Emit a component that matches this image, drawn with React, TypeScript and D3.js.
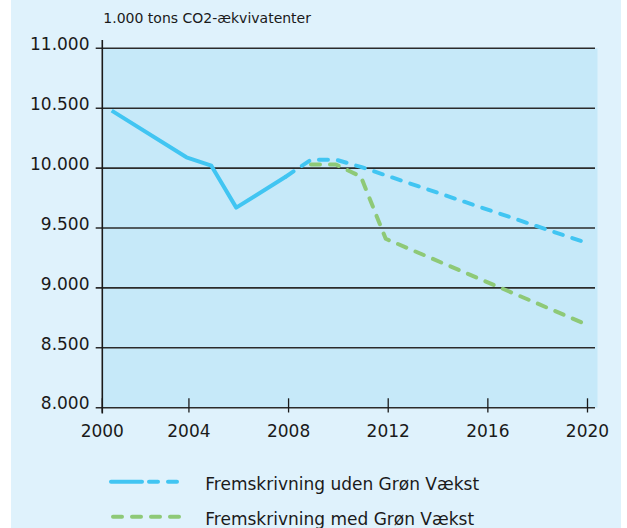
import React from "react";
import * as d3 from "d3";

const histYears = [2001, 2004, 2005, 2006, 2008];
const histValues = [10480, 10090, 10020, 9670, 9930];
const udenYears = [2008, 2009, 2010, 2011, 2020];
const udenValues = [9930, 10070, 10070, 10010, 9380];
const medYears = [2009, 2010, 2011, 2012, 2020];
const medValues = [10030, 10030, 9930, 9410, 8700];
const xTicks = [2000, 2004, 2008, 2012, 2016, 2020];
const yTicks = [8000, 8500, 9000, 9500, 10000, 10500, 11000];
const yTickLabels = ["8.000", "8.500", "9.000", "9.500", "10.000", "10.500", "11.000"];
const unitLabel = "1.000 tons CO2-ækvivatenter";
const legendLabels = ["Fremskrivning uden Grøn Vækst", "Fremskrivning med Grøn Vækst"];

const W = 627;
const H = 528;
const plotLeft = 102.3;
const plotRight = 597.5;
const axisRight = 595;
const blue = "#41c5f2";
const green = "#8ec977";
const font = "DejaVu Sans, sans-serif";
const tickShift = 2.5;

export default function App() {
  const x = d3.scaleLinear().domain([2001, 2020]).range([111.7, 585]);
  const y = d3.scaleLinear().domain([8000, 11000]).range([407.7, 48.3]);
  const line = d3
    .line<[number, number]>()
    .x((d) => x(d[0]))
    .y((d) => y(d[1]));
  const hist = histYears.map((yr, i) => [yr, histValues[i]] as [number, number]);
  const uden = udenYears.map((yr, i) => [yr, udenValues[i]] as [number, number]);
  const med = medYears.map((yr, i) => [yr, medValues[i]] as [number, number]);
  const tickX = (t: number) => Math.max(plotLeft, x(t) + tickShift);
  const y0 = y(8000);

  return (
    <svg
      width={W}
      height={H}
      style={{ position: "absolute", left: 0, top: 0 }}
      fontFamily={font}
    >
      <rect x={11} y={0} width={610} height={H} fill="#dff2fc" />
      <rect x={plotLeft} y={y(11000)} width={plotRight - plotLeft} height={y0 - y(11000)} fill="#c6e9f9" />
      {yTicks.map((t, i) => (
        <g key={t}>
          <line x1={95.7} x2={axisRight} y1={y(t)} y2={y(t)} stroke="#2b2b2b" strokeWidth={1.6} />
          <text x={89.5} y={y(t) + 1.7} textAnchor="end" fontSize={17} fill="#1a1a1a">
            {yTickLabels[i]}
          </text>
        </g>
      ))}
      <line x1={plotLeft} x2={plotLeft} y1={40} y2={413.5} stroke="#1a1a1a" strokeWidth={1.6} />
      {xTicks.map((t) => (
        <g key={t}>
          <line x1={tickX(t)} x2={tickX(t)} y1={398.3} y2={412.5} stroke="#1a1a1a" strokeWidth={1.3} />
          <text x={tickX(t)} y={436.7} textAnchor="middle" fontSize={17} fill="#1a1a1a">
            {t}
          </text>
        </g>
      ))}
      <text x={103.3} y={22.7} fontSize={14} fill="#1a1a1a">
        {unitLabel}
      </text>
      <path d={line(med) || ""} fill="none" stroke={green} strokeWidth={4} strokeDasharray="9 10" strokeLinecap="round" strokeLinejoin="round" />
      <path d={line(uden) || ""} fill="none" stroke={blue} strokeWidth={4} strokeDasharray="9 10" strokeLinecap="round" strokeLinejoin="round" />
      <path d={line(hist) || ""} fill="none" stroke={blue} strokeWidth={4} strokeLinejoin="round" />
      {/* legend */}
      <line x1={111} x2={142} y1={481.7} y2={481.7} stroke={blue} strokeWidth={4} strokeLinecap="round" />
      <line x1={149} x2={184} y1={481.7} y2={481.7} stroke={blue} strokeWidth={4} strokeDasharray="9 10" strokeLinecap="round" />
      <line x1={113} x2={184} y1={516.7} y2={516.7} stroke={green} strokeWidth={4} strokeDasharray="9 10" strokeLinecap="round" />
      <text x={205.3} y={490} fontSize={17} fill="#1a1a1a">
        {legendLabels[0]}
      </text>
      <text x={205.3} y={525} fontSize={17} fill="#1a1a1a">
        {legendLabels[1]}
      </text>
    </svg>
  );
}
